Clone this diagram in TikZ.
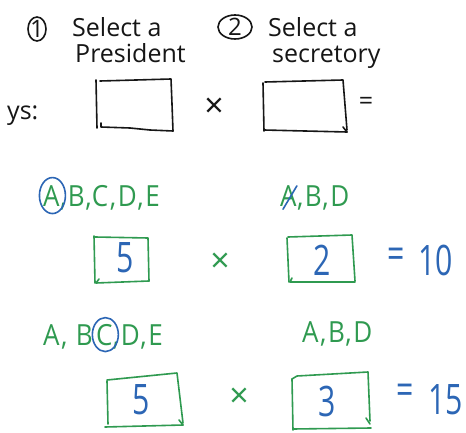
\documentclass[tikz,border=0pt]{standalone}
\usepackage{fontspec}
\setmainfont{Open Sans}
\definecolor{ink}{HTML}{161616}
\definecolor{pengreen}{HTML}{2F9A50}
\definecolor{penblue}{HTML}{2C66B5}
\tikzset{
  stroke/.style={line width=1.6pt, line cap=round, line join=round},
  hand/.style={inner sep=0pt, font=\fontsize{25}{28}\selectfont, text=ink},
  letters/.style={inner sep=0pt, font=\fontsize{26}{30}\selectfont\addfontfeatures{LetterSpace=6},
    text=pengreen, yscale=1.12},
  digit/.style={inner sep=0pt, font=\fontsize{42}{44}\selectfont, text=penblue, xscale=0.72},
  timessign/.style={inner sep=0pt, font=\fontsize{34}{34}\selectfont},
}
\begin{document}
\begin{tikzpicture}[x=1pt, y=-1pt]
\fill[white] (0,0) rectangle (466,433);
\useasboundingbox (0,0) rectangle (466,433);

% --- headings ---
\node[hand, font=\fontsize{24}{24}\selectfont] (n1) at (37,29) {1};
\draw[stroke, ink] (n1.center) ellipse [x radius=9pt, y radius=12pt];
\node[hand, anchor=base west] (sel1) at (72,37) {Select a};
\node[hand, anchor=base west] (pres) at (75,63) {President};

\node[hand, font=\fontsize{24}{24}\selectfont] (n2) at (235,27) {2};
\draw[stroke, ink] (n2.center) ellipse [x radius=17pt, y radius=12pt];
\node[hand, anchor=base west] (sel2) at (268,37) {Select a};
\node[hand, anchor=base west] (secr) at (272,63) {secretory};

% --- empty slots ---
\node[hand, anchor=base west] (ways) at (7,120) {ys:};
\draw[stroke, ink] (96,80) -- (97,128);
\draw[stroke, ink] (100,81) -- (136,80) -- (171,79) -- (172,104) -- (173,131);
\draw[stroke, ink] (101,123) -- (101,127) -- (130,128) -- (150,130) -- (173,131);
\node[timessign, text=ink] (x1) at (214,108) {×};
\draw[stroke, ink] (263,83) -- (264,131);
\draw[stroke, ink] (265,82) -- (343,80) -- (345,105) -- (347,130);
\draw[stroke, ink] (264,130) -- (305,131) -- (347,132);
\draw[stroke, ink] (343,127) -- (347,132);
\node[hand, anchor=center] (eq1) at (366,103) {=};

% --- first choice: A as president ---
\node[letters, anchor=base west] (r2a) at (43,206) {A};
\node[letters, anchor=base west] (r2rest) at (r2a.base east) {,B,C,D,E};
\draw[stroke, penblue] ([xshift=1pt]r2a.center) ellipse [x radius=13pt, y radius=18pt];

\node[letters, anchor=base west] (r2bA) at (280,207) {A};
\node[letters, anchor=base west] (r2brest) at (r2bA.base east) {,B,D};
\draw[stroke, penblue] ([shift={(3,2)}]r2bA.south west) -- ([shift={(0,0)}]r2bA.north east);

\draw[stroke, pengreen] (94,236) -- (95,283);
\draw[stroke, pengreen] (95,237) -- (148,238) -- (149,281);
\draw[stroke, pengreen] (99,279) -- (96,283) -- (149,281);
\node[digit] (d5a) at (125,258) {5};

\node[timessign, text=pengreen] (x2) at (220,263) {×};

\draw[stroke, pengreen] (287,238) -- (289,282);
\draw[stroke, pengreen] (288,237) -- (352,235) -- (355,281);
\draw[stroke, pengreen] (292,278) -- (290,282) -- (355,282);
\node[digit] (d2) at (322,260) {2};

\node[digit] (eq2) at (396,258) {=};
\node[digit, anchor=west] (ten) at (418,260) {10};

% --- second choice: C as president ---
\node[letters, anchor=base west] (r3ab) at (43,345) {A, B};
\node[letters, anchor=base west] (r3c) at ([xshift=3pt]r3ab.base east) {C};
\node[letters, anchor=base west] (r3rest) at (r3c.base east) {,D,E};
\draw[stroke, penblue] ([xshift=1pt]r3c.center) ellipse [x radius=13pt, y radius=17pt];

\node[letters, anchor=base west] (r3b) at (302,342) {A,B,D};

\draw[stroke, pengreen] (107,381) -- (108,424);
\draw[stroke, pengreen] (107,380) -- (177,373) -- (183,423);
\draw[stroke, pengreen] (105,427) -- (183,425);
\draw[stroke, pengreen] (179,420) -- (183,425);
\node[digit] (d5b) at (141,400) {5};

\node[timessign, text=pengreen] (x3) at (239,398) {×};

\draw[stroke, pengreen] (292,379) -- (293,430);
\draw[stroke, pengreen] (292,379) -- (297,376) -- (368,372) -- (370,421);
\draw[stroke, pengreen] (293,429) -- (371,428);
\draw[stroke, pengreen] (366,418) -- (370,424);
\node[digit] (d3) at (327,401) {3};

\node[digit] (eq3) at (405,394) {=};
\node[digit, anchor=west] (fifteen) at (428,400) {15};
\end{tikzpicture}
\end{document}
